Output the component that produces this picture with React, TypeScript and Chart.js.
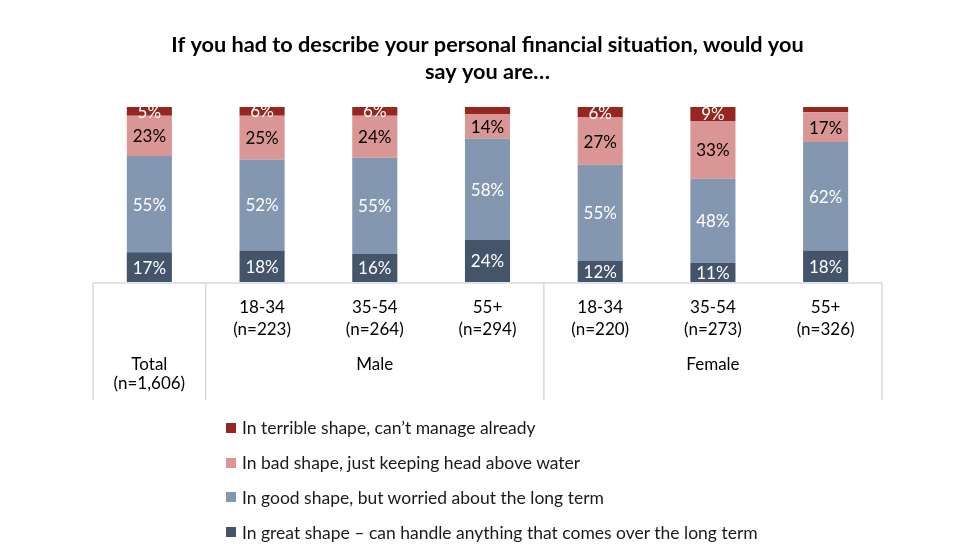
import React, { useEffect, useRef } from "react";
import { Chart, registerables } from "chart.js";

Chart.register(...registerables);

const FONT = "Lato, 'Open Sans', sans-serif";

const titleLines = [
  "If you had to describe your personal financial situation, would you",
  "say you are\u2026",
];

const categories = ["Total", "18-34", "35-54", "55+", "18-34", "35-54", "55+"];
const sampleSizes = ["(n=1,606)", "(n=223)", "(n=264)", "(n=294)", "(n=220)", "(n=273)", "(n=326)"];
const groupNames = ["Male", "Female"];
const groupStart = [1, 4];
const groupEnd = [3, 6];

const seriesNames = [
  "In great shape \u2013 can handle anything that comes over the long term",
  "In good shape, but worried about the long term",
  "In bad shape, just keeping head above water",
  "In terrible shape, can\u2019t manage already",
];
const greatShape = [17, 18, 16, 24, 12, 11, 18];
const goodShape = [55, 52, 55, 58, 55, 48, 62];
const badShape = [23, 25, 24, 14, 27, 33, 17];
const terribleShape = [5, 6, 6, 4, 6, 9, 3];
const seriesValues = [greatShape, goodShape, badShape, terribleShape];
const seriesColors = ["#44546A", "#8497B0", "#DA9694", "#962620"];
const labelColors = ["#FFFFFF", "#FFFFFF", "#000000", "#FFFFFF"];
const minLabelValue = 5;

const valueLabels = {
  id: "valueLabels",
  afterDatasetsDraw(chart: any) {
    const ctx = chart.ctx;
    ctx.save();
    ctx.font = `17px ${FONT}`;
    ctx.textAlign = "center";
    ctx.textBaseline = "middle";
    chart.data.datasets.forEach((ds: any, di: number) => {
      const meta = chart.getDatasetMeta(di);
      meta.data.forEach((el: any, i: number) => {
        const v = ds.data[i];
        if (v == null || v < minLabelValue) return;
        ctx.fillStyle = labelColors[di];
        ctx.fillText(`${v}%`, el.x, (el.y + el.base) / 2 + 1);
      });
    });
    ctx.restore();
  },
};

const axisTable = {
  id: "axisTable",
  afterDraw(chart: any) {
    const ctx = chart.ctx;
    const x = chart.scales.x;
    const area = chart.chartArea;
    const step = x.getPixelForValue(1) - x.getPixelForValue(0);
    const edge = (i: number) => x.getPixelForValue(i) - step / 2;
    const top = area.bottom + 1;
    const bottom = 400;
    ctx.save();
    ctx.strokeStyle = "#D9D9D9";
    ctx.lineWidth = 1.5;
    ctx.beginPath();
    ctx.moveTo(edge(0), top);
    ctx.lineTo(edge(categories.length), top);
    const verticals = [0, 1, 4, categories.length];
    verticals.forEach((i) => {
      ctx.moveTo(edge(i), top);
      ctx.lineTo(edge(i), bottom);
    });
    ctx.stroke();

    ctx.fillStyle = "#000";
    ctx.font = `17px ${FONT}`;
    ctx.textAlign = "center";
    ctx.textBaseline = "middle";
    const cx0 = x.getPixelForValue(0);
    ctx.fillText(categories[0], cx0, 365);
    ctx.fillText(sampleSizes[0], cx0, 384);
    groupNames.forEach((g, gi) => {
      const cx = (x.getPixelForValue(groupStart[gi]) + x.getPixelForValue(groupEnd[gi])) / 2;
      ctx.fillText(g, cx, 365);
    });
    ctx.restore();
  },
};

export default function App() {
  const ref = useRef<HTMLCanvasElement>(null);

  useEffect(() => {
    const chart = new Chart(ref.current as HTMLCanvasElement, {
      type: "bar",
      data: {
        labels: categories,
        datasets: seriesValues.map((vals, i) => ({
          label: seriesNames[i],
          data: vals,
          backgroundColor: seriesColors[i],
          borderWidth: 0,
          barPercentage: 0.4,
          categoryPercentage: 1,
        })),
      },
      options: {
        responsive: false,
        animation: false,
        layout: { padding: { left: 93, right: 76, top: 0, bottom: 200 } },
        plugins: {
          legend: { display: false },
          tooltip: { enabled: false },
          title: {
            display: true,
            text: titleLines,
            color: "#000",
            font: { family: FONT, size: 21.7, weight: "bold", lineHeight: "27px" },
            padding: { top: 31.5, bottom: 21.5 },
          },
        },
        scales: {
          x: {
            stacked: true,
            grid: { display: false, drawTicks: false },
            border: { display: false },
            ticks: {
              autoSkip: false,
              maxRotation: 0,
              minRotation: 0,
              padding: 15,
              color: "#000",
              font: { family: FONT, size: 17, lineHeight: "22px" },
              callback: (_v: any, i: number) => (i === 0 ? "" : [categories[i], sampleSizes[i]]),
            },
          },
          y: { stacked: true, display: false, min: 0, max: 100 },
        },
      },
      plugins: [valueLabels, axisTable],
    });
    return () => chart.destroy();
  }, []);

  const legendOrder = [3, 2, 1, 0];

  return (
    <div style={{ position: "fixed", left: 0, top: 0, width: 958, height: 556, background: "#fff" }}>
      <canvas ref={ref} width={958} height={556} style={{ display: "block" }} />
      <div style={{ position: "absolute", left: 226, top: 410.6, fontFamily: FONT, fontSize: 17.5, color: "#1a1a1a" }}>
        {legendOrder.map((i) => (
          <div key={i} style={{ height: 34.7, display: "flex", alignItems: "center", whiteSpace: "nowrap" }}>
            <span style={{ width: 10, height: 10, background: seriesColors[i], display: "inline-block", marginRight: 6 }} />
            <span>{seriesNames[i]}</span>
          </div>
        ))}
      </div>
    </div>
  );
}
